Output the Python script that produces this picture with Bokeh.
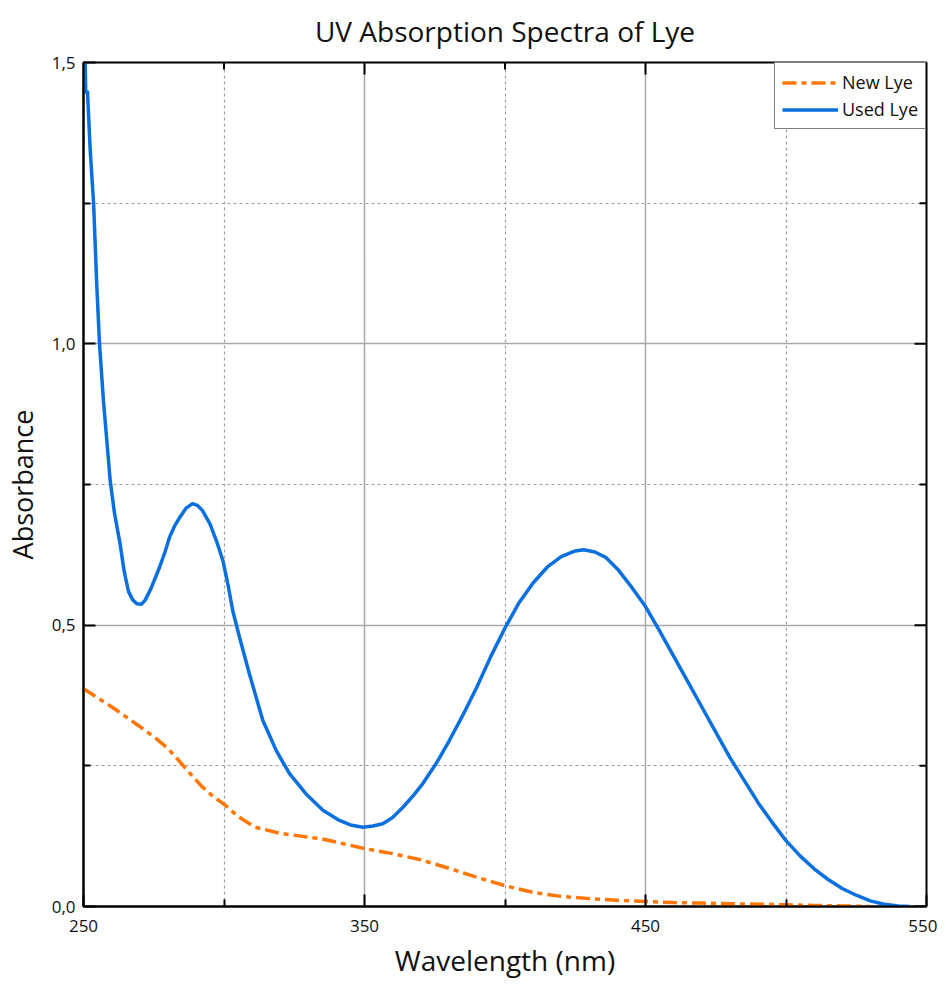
import math
from bokeh.plotting import figure
from bokeh.models import FixedTicker, Range1d, Legend, LegendItem
from bokeh.embed import file_html
from bokeh.resources import INLINE

# ---- data ----
used_wl = [250, 250.6, 250.8, 251.4, 252.4, 253.6, 254.7, 255.7, 257.1, 259.5, 261, 263, 264.5, 266,
           267.5, 269, 270.6, 272, 274, 277, 279, 280.6, 282.5, 284.2, 286.5, 288.8, 290.5, 292.3,
           295, 297.3, 299.6, 301.5, 303.1, 305.5, 309, 313.8, 318.6, 323.3, 329.2, 335.2, 341.1,
           345, 349.4, 353, 356.5, 360, 363.6, 367, 370.7, 375.5, 380.2, 385, 390, 395, 400, 405,
           410, 415, 420, 425, 428, 432, 436, 440, 445, 450, 455, 460, 465, 470, 475, 480, 485, 490,
           495, 500, 505, 510, 515, 520, 525, 530, 535, 540, 544]
used_abs = [1.50, 1.50, 1.445, 1.45, 1.343, 1.249, 1.107, 1.0, 0.899, 0.757, 0.70, 0.645, 0.595,
            0.56, 0.545, 0.538, 0.537, 0.545, 0.565, 0.602, 0.63, 0.656, 0.677, 0.691, 0.708, 0.716,
            0.713, 0.704, 0.68, 0.65, 0.615, 0.57, 0.526, 0.479, 0.414, 0.331, 0.277, 0.236, 0.20,
            0.171, 0.153, 0.145, 0.141, 0.143, 0.147, 0.158, 0.176, 0.195, 0.218, 0.254, 0.295,
            0.34, 0.39, 0.445, 0.495, 0.54, 0.575, 0.603, 0.622, 0.632, 0.634, 0.63, 0.62, 0.60,
            0.568, 0.533, 0.49, 0.445, 0.40, 0.355, 0.31, 0.265, 0.225, 0.185, 0.15, 0.117, 0.09,
            0.067, 0.048, 0.032, 0.02, 0.01, 0.004, 0.001, 0.0]

new_wl = [250, 260, 270, 276, 280, 284, 288, 292, 296, 300, 305, 311, 320, 335, 350, 360, 370, 380,
          390, 400, 410, 420, 430, 440, 450, 460, 470, 480, 490, 500, 510, 520, 530]
new_abs = [0.387, 0.355, 0.32, 0.298, 0.281, 0.259, 0.236, 0.214, 0.196, 0.182, 0.16, 0.141, 0.13,
           0.12, 0.103, 0.094, 0.083, 0.068, 0.052, 0.037, 0.025, 0.018, 0.014, 0.011, 0.009,
           0.007, 0.006, 0.005, 0.004, 0.003, 0.002, 0.001, 0.0]

x_major = [250, 350, 450, 550]
x_minor = [300, 400, 500]
y_major = [0.0, 0.5, 1.0, 1.5]
y_minor = [0.25, 0.75, 1.25]
y_labels = ["0,0", "0,5", "1,0", "1,5"]

FONT = "Open Sans"
X0, X1, Y0, Y1 = 250, 550, 0, 1.5

p = figure(width=930, height=968, output_backend="svg", toolbar_location=None,
           x_range=Range1d(X0, X1), y_range=Range1d(Y0, Y1),
           frame_width=843, frame_height=844,
           min_border_left=76, min_border_right=11, min_border_top=54, min_border_bottom=0,
           title="UV Absorption Spectra of Lye")
p.title.align = "center"
p.title.text_font = FONT
p.title.text_font_size = "28px"
p.title.text_font_style = "normal"
p.title.text_color = "#111111"
p.title.text_line_height = 0.75
p.title.vertical_align = "top"
p.title.standoff = 22

p.outline_line_color = "black"
p.outline_line_width = 2
p.background_fill_color = "white"
p.border_fill_color = "white"

xt = FixedTicker(ticks=x_major, minor_ticks=x_minor)
yt = FixedTicker(ticks=y_major, minor_ticks=y_minor)

for ax in (p.xaxis[0], p.yaxis[0]):
    ax.axis_line_color = "black"
    ax.axis_line_width = 2
    ax.major_tick_in = 12
    ax.major_tick_out = 0
    ax.minor_tick_in = 7
    ax.minor_tick_out = 0
    ax.major_tick_line_color = "black"
    ax.major_tick_line_width = 2
    ax.minor_tick_line_color = "black"
    ax.minor_tick_line_width = 2
    ax.major_label_text_font = FONT
    ax.major_label_text_font_size = "17px"
    ax.major_label_text_color = "#111111"
    ax.axis_label_text_font = FONT
    ax.axis_label_text_font_style = "normal"
    ax.axis_label_text_color = "#111111"

p.xaxis.ticker = xt
p.yaxis.ticker = yt
p.yaxis.major_label_overrides = {v: s for v, s in zip(y_major, y_labels)}
p.xaxis.axis_label = "Wavelength (nm)"
p.yaxis.axis_label = "Absorbance"
p.xaxis.axis_label_text_font_size = "28px"
p.yaxis.axis_label_text_font_size = "27px"
p.xaxis.major_label_standoff = 13
p.yaxis.major_label_standoff = 8
p.xaxis.axis_label_standoff = 6
p.yaxis.axis_label_standoff = 8

for g in (p.xgrid[0], p.ygrid[0]):
    g.grid_line_color = "#a8a8a8"
    g.grid_line_width = 1.5
    g.minor_grid_line_color = "#a0a0a0"
    g.minor_grid_line_width = 1.2
    g.minor_grid_line_dash = "3 3"
p.xgrid.ticker = xt
p.ygrid.ticker = yt

# mirrored ticks on top and right edges of the frame (half of each dash is clipped)
p.scatter(x_major, [Y1] * len(x_major), marker="dash", size=24, angle=math.pi / 2,
          line_color="black", line_width=2)
p.scatter(x_minor, [Y1] * len(x_minor), marker="dash", size=14, angle=math.pi / 2,
          line_color="black", line_width=2)
p.scatter([X1] * len(y_major), y_major, marker="dash", size=24,
          line_color="black", line_width=2)
p.scatter([X1] * len(y_minor), y_minor, marker="dash", size=14,
          line_color="black", line_width=2)

r_new = p.line(new_wl, new_abs, line_color="#FF7700", line_width=3.5, line_dash="14 5 5 5")
r_used = p.line(used_wl, used_abs, line_color="#0A6FDF", line_width=3.5)

legend = Legend(items=[LegendItem(label="New Lye", renderers=[r_new]),
                       LegendItem(label="Used Lye", renderers=[r_used])],
                location="top_right")
legend.margin = 0
legend.padding = 7
legend.spacing = 3
legend.border_line_color = "black"
legend.border_line_width = 1.5
legend.background_fill_alpha = 1
legend.label_text_font = FONT
legend.label_text_font_size = "18px"
legend.label_text_color = "#111111"
legend.glyph_width = 56
legend.glyph_height = 23
legend.label_standoff = 4
p.add_layout(legend, "center")

open("out.html", "w").write(file_html(p, INLINE))
